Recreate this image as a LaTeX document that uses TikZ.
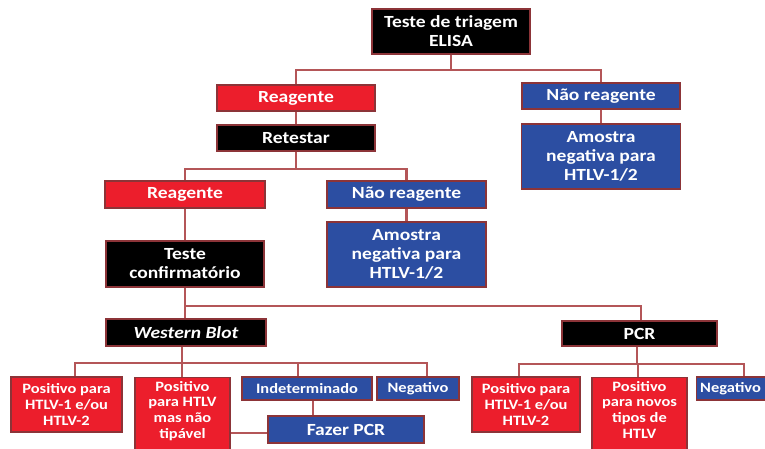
\documentclass[tikz,border=0pt]{standalone}
\usepackage{fontspec}
\setmainfont{Carlito}[FakeStretch=1.15]
\definecolor{boxred}{RGB}{236,30,44}
\definecolor{boxblue}{RGB}{44,78,162}
\definecolor{boxblack}{RGB}{0,0,0}
\definecolor{edgecol}{RGB}{140,52,56}
\definecolor{linecol}{RGB}{180,86,88}
\begin{document}
\begin{tikzpicture}[x=1pt,y=-1pt,
  box/.style={draw=edgecol,line width=1.1pt,text=white,font=\bfseries\fontsize{17}{19}\selectfont,
    align=center,inner sep=0pt,minimum width=#1},
  redbox/.style={box=#1,fill=boxred},
  bluebox/.style={box=#1,fill=boxblue},
  blackbox/.style={box=#1,fill=boxblack},
  small/.style={font=\bfseries\fontsize{14.3}{15.6}\selectfont},
  conn/.style={draw=linecol,line width=2.1pt}]
\useasboundingbox (0,0) rectangle (765,448);
\clip (0,0) rectangle (765,448);
% level 1
\node[blackbox=158pt,minimum height=45pt] (top) at (451,31.5) {Teste de triagem\\ELISA};
\node[redbox=158pt,minimum height=26pt] (rea1) at (296,98) {Reagente};
\node[bluebox=158pt,minimum height=26pt] (nrea1) at (601,96) {Não reagente};
\node[bluebox=159pt,minimum height=65pt] (amo1) at (601,156.5) {Amostra\\negativa para\\HTLV-1/2};
\node[blackbox=158pt,minimum height=26pt] (ret) at (296,138) {Retestar};
% level 2
\node[redbox=160pt,minimum height=27pt] (rea2) at (185,194.5) {Reagente};
\node[bluebox=159pt,minimum height=27pt] (nrea2) at (406.5,194.5) {Não reagente};
\node[bluebox=159pt,minimum height=65pt] (amo2) at (406.5,254.5) {Amostra\\negativa para\\HTLV-1/2};
\node[blackbox=158pt,minimum height=46pt] (conf) at (185,264) {Teste\\confirmatório};
% level 3
\node[blackbox=160pt,minimum height=27pt] (wb) at (186,332.5) {\itshape Western Blot};
\node[blackbox=155pt,minimum height=25pt] (pcr) at (639.5,333.5) {PCR};
% level 4
\node[redbox=111pt,minimum height=55pt,small] (p1) at (66.5,404.5) {Positivo para\\HTLV-1 e/ou\\HTLV-2};
\node[redbox=95pt,minimum height=78pt,small,anchor=north] (p2) at (182.5,377) {};
\node[text=white,small,align=center,anchor=north,inner sep=0pt] (p2t) at (182.5,381) {Positivo\\para HTLV\\mas não\\tipável};
\node[bluebox=130pt,minimum height=23pt,small] (ind) at (307,388.5) {Indeterminado};
\node[bluebox=82pt,minimum height=23pt,small] (neg1) at (418,388.5) {Negativo};
\node[bluebox=156pt,minimum height=27pt] (faz) at (346,429.5) {Fazer PCR};
\node[redbox=108pt,minimum height=55pt,small] (q1) at (526,404.5) {Positivo para\\HTLV-1 e/ou\\HTLV-2};
\node[redbox=95pt,minimum height=78pt,small,anchor=north] (q2) at (639.5,377) {};
\node[text=white,small,align=center,anchor=north,inner sep=0pt] (q2t) at (639.5,381) {Positivo\\para novos\\tipos de\\HTLV};
\node[bluebox=82pt,minimum height=23pt,small,anchor=west] (neg2) at (696,388.5) {\hspace*{-14pt}Negativo};
% connectors
\path[conn] (top.south) -- ++(0,15) -| (rea1.north);
\path[conn] (top.south) -- ++(0,15) -| (nrea1.north);
\path[conn] (rea1.south) -- (ret.north);
\path[conn] (nrea1.south) -- (amo1.north);
\path[conn] (ret.south) -- ++(0,17) -| (rea2.north);
\path[conn] (ret.south) -- ++(0,17) -| (nrea2.north);
\path[conn] (rea2.south) -- (conf.north);
\path[conn] (nrea2.south) -- (amo2.north);
\path[conn] (conf.south) -- (wb.north -| conf.south);
\path[conn] (conf.south) -- ++(0,18.5) -| ([xshift=1.5pt]pcr.north);
\path[conn] ([xshift=-4pt]wb.south) -- ++(0,16) -| ([xshift=8.5pt]p1.north);
\path[conn] ([xshift=-4pt]wb.south) -- ++(0,16) -| ([xshift=-0.8pt]p2.north);
\path[conn] ([xshift=-4pt]wb.south) -- ++(0,16) -| ([xshift=-9pt]ind.north);
\path[conn] ([xshift=-4pt]wb.south) -- ++(0,16) -| ([xshift=8.7pt]neg1.north);
\path[conn] ([xshift=6pt]ind.south) -- ([xshift=6pt]ind.south |- faz.north);
\path[conn] ([yshift=-3.5pt]faz.west) -- ([yshift=-3.5pt]faz.west -| p2.east);
\path[conn] ([xshift=-2.5pt]pcr.south) -- ++(0,17) -| ([xshift=-7pt]q1.north);
\path[conn] ([xshift=-2.5pt]pcr.south) -- ++(0,17) -| ([xshift=-1.5pt]q2.north);
\path[conn] ([xshift=-2.5pt]pcr.south) -- ++(0,17) -| ([xshift=6pt]neg2.north);
\end{tikzpicture}
\end{document}
